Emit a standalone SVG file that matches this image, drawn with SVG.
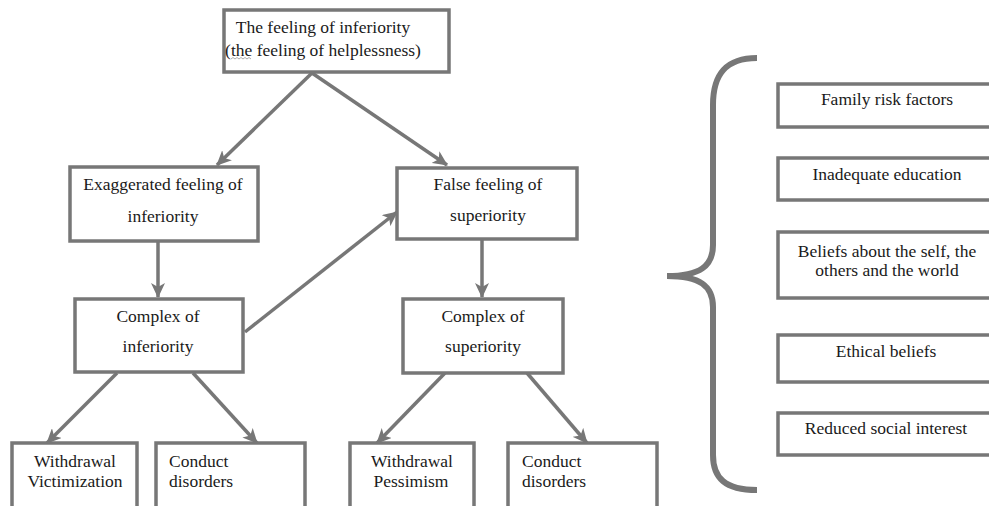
<svg xmlns="http://www.w3.org/2000/svg" width="989" height="506" viewBox="0 0 989 506">
<style>
.box{fill:#fff;stroke:#777;stroke-width:3.5}
.t{font-family:"Liberation Serif","Times New Roman",serif;font-size:17.5px;fill:#1a1a1a;text-anchor:middle}
.l{text-anchor:start}
.c{stroke:#777;stroke-width:3.5;fill:none}
</style>
<defs>
<marker id="ah" markerUnits="userSpaceOnUse" markerWidth="16" markerHeight="14" refX="14" refY="7" orient="auto">
<path d="M0,0 L15,7 L0,14 L4,7 Z" fill="#777"/>
</marker>
</defs>
<rect width="989" height="506" fill="#fff"/>
<g id="connectors">
<line class="c" x1="312" y1="73" x2="217" y2="165" marker-end="url(#ah)"/>
<line class="c" x1="312" y1="73" x2="447" y2="165" marker-end="url(#ah)"/>
<line class="c" x1="158" y1="241" x2="158" y2="297" marker-end="url(#ah)"/>
<line class="c" x1="245" y1="332" x2="397" y2="212" marker-end="url(#ah)"/>
<line class="c" x1="482" y1="239" x2="482" y2="297" marker-end="url(#ah)"/>
<line class="c" x1="117" y1="373" x2="47" y2="443" marker-end="url(#ah)"/>
<line class="c" x1="193" y1="373" x2="257" y2="443" marker-end="url(#ah)"/>
<line class="c" x1="445" y1="373" x2="377" y2="443" marker-end="url(#ah)"/>
<line class="c" x1="527" y1="373" x2="587" y2="443" marker-end="url(#ah)"/>
</g>
<g id="n-top">
<rect class="box" x="224" y="10" width="225" height="62"/>
<text class="t" x="323" y="33">The feeling of inferiority</text>
<text class="t" x="323" y="56">(the feeling of helplessness)</text>
<path d="M231,59 l2,-1.5 l2,1.5 l2,-1.5 l2,1.5 l2,-1.5 l2,1.5 l2,-1.5 l2,1.5 l2,-1.5 l2,1.5" fill="none" stroke="#999" stroke-width="0.8"/>
</g>
<g id="n-exag">
<rect class="box" x="70" y="167" width="188" height="74"/>
<text class="t" x="163" y="190">Exaggerated feeling of</text>
<text class="t" x="163" y="222">inferiority</text>
</g>
<g id="n-false">
<rect class="box" x="397" y="168" width="180" height="71"/>
<text class="t" x="488" y="190">False feeling of</text>
<text class="t" x="488" y="221">superiority</text>
</g>
<g id="n-cinf">
<rect class="box" x="75" y="299" width="168" height="73"/>
<text class="t" x="158" y="322">Complex of</text>
<text class="t" x="158" y="352">inferiority</text>
</g>
<g id="n-csup">
<rect class="box" x="403" y="299" width="160" height="74"/>
<text class="t" x="483" y="322">Complex of</text>
<text class="t" x="483" y="352">superiority</text>
</g>
<g id="n-wv">
<rect class="box" x="12" y="443" width="125" height="80"/>
<text class="t" x="75" y="467">Withdrawal</text>
<text class="t" x="75" y="487">Victimization</text>
</g>
<g id="n-cd1">
<rect class="box" x="156" y="443" width="149" height="80"/>
<text class="t l" x="169" y="467">Conduct</text>
<text class="t l" x="169" y="487">disorders</text>
</g>
<g id="n-wp">
<rect class="box" x="350" y="443" width="124" height="80"/>
<text class="t" x="412" y="467">Withdrawal</text>
<text class="t" x="411" y="487">Pessimism</text>
</g>
<g id="n-cd2">
<rect class="box" x="508" y="443" width="149" height="80"/>
<text class="t l" x="522" y="467">Conduct</text>
<text class="t l" x="522" y="487">disorders</text>
</g>
<g id="brace">
<path d="M757,58 C725,58 713,75 713,105 L713,245 C713,266 700,276 667,276 C700,276 713,286 713,307 L713,455 C713,478 725,490 757,490" fill="none" stroke="#777" stroke-width="6"/>
</g>
<g id="n-family">
<rect class="box" x="778" y="84" width="230" height="43"/>
<text class="t" x="887" y="105">Family risk factors</text>
</g>
<g id="n-edu">
<rect class="box" x="778" y="158" width="230" height="42"/>
<text class="t" x="887" y="180">Inadequate education</text>
</g>
<g id="n-beliefs">
<rect class="box" x="778" y="232" width="230" height="66"/>
<text class="t" x="887" y="257">Beliefs about the self, the</text>
<text class="t" x="887" y="276">others and the world</text>
</g>
<g id="n-ethical">
<rect class="box" x="778" y="335" width="230" height="47"/>
<text class="t" x="886" y="357">Ethical beliefs</text>
</g>
<g id="n-social">
<rect class="box" x="778" y="413" width="230" height="42"/>
<text class="t" x="886" y="434">Reduced social interest</text>
</g>
</svg>
